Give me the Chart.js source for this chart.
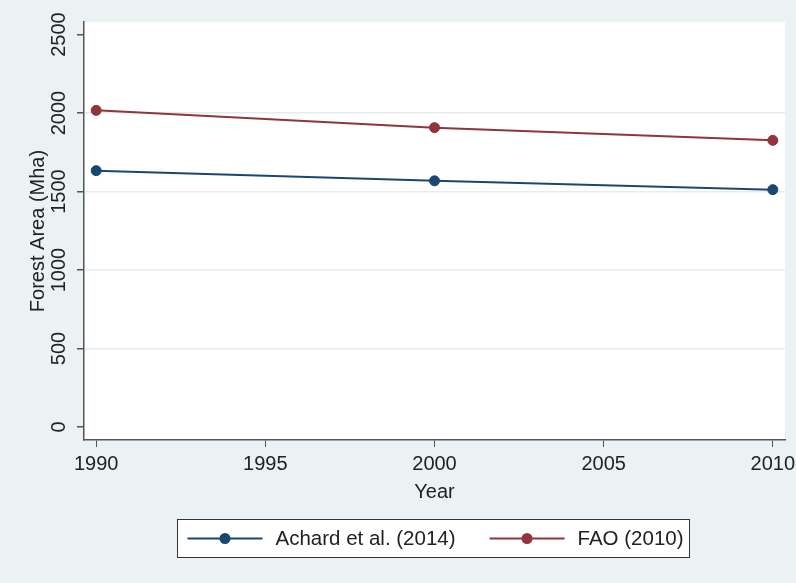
<!DOCTYPE html>
<html>
<head>
<meta charset="utf-8">
<script src="https://cdn.jsdelivr.net/npm/chart.js@4.4.1/dist/chart.umd.min.js"></script>
<style>
  html, body { margin: 0; padding: 0; background: #eaf2f3; }
  #wrap { width: 796px; height: 583px; }
</style>
</head>
<body>
<div id="wrap"><canvas id="chart" width="796" height="583"></canvas></div>
<script>
// Forest area estimates (Mha)
const years = [1990, 2000, 2010]
const achard = [1633, 1568, 1512]
const fao = [2017, 1907, 1826]
const seriesNames = ["Achard et al. (2014)", "FAO (2010)"]
const xTicks = [1990, 1995, 2000, 2005, 2010]
const yTicks = [0, 500, 1000, 1500, 2000, 2500]

const NAVY = '#1a476f'
const MAROON = '#90353b'
const FONT = '"Liberation Sans", Arial, sans-serif'

Chart.defaults.font.family = FONT
Chart.defaults.font.size = 20
Chart.defaults.color = '#222'

const toPoints = (vals) => years.map((yr, i) => ({ x: yr, y: vals[i] }))

// Background + white plot region
const backdrop = {
    id: 'backdrop',
    beforeDraw(chart) {
        const { ctx, chartArea: a } = chart
        ctx.save()
        ctx.fillStyle = '#eaf2f3'
        ctx.fillRect(0, 0, chart.width, chart.height)
        ctx.fillStyle = '#ffffff'
        ctx.fillRect(a.left, a.top, a.right - a.left, a.bottom - a.top)
        ctx.restore()
    }
}

// Vertical y tick labels, Stata style
const yLabels = {
    id: 'yLabels',
    afterDraw(chart) {
        const { ctx } = chart
        const scale = chart.scales.y
        ctx.save()
        ctx.font = '20px ' + FONT
        ctx.fillStyle = '#222'
        ctx.textAlign = 'center'
        ctx.textBaseline = 'middle'
        yTicks.forEach(v => {
            const y = scale.getPixelForValue(v)
            ctx.save()
            ctx.translate(59, y)
            ctx.rotate(-Math.PI / 2)
            ctx.fillText(String(v), 0, 0)
            ctx.restore()
        })
        ctx.restore()
    }
}

// Boxed legend below the x axis title
const boxLegend = {
    id: 'boxLegend',
    afterDraw(chart) {
        const { ctx, chartArea: a } = chart
        const lineLen = 75, gap = 13, itemGap = 34, padL = 10, padR = 6
        ctx.save()
        ctx.font = '20.5px ' + FONT
        const widths = chart.data.datasets.map(ds => ctx.measureText(ds.label).width)
        let total = padL + padR
        widths.forEach((w, i) => { total += lineLen + gap + w + (i > 0 ? itemGap : 0) })
        total = Math.round(total)
        const boxLeft = Math.round((a.left + a.right) / 2 - total / 2) - 2 + 0.5
        const boxTop = 519.5, boxH = 38
        const cy = boxTop + boxH / 2
        ctx.fillStyle = '#ffffff'
        ctx.fillRect(boxLeft, boxTop, total, boxH)
        ctx.strokeStyle = '#333'
        ctx.lineWidth = 1
        ctx.strokeRect(boxLeft, boxTop, total, boxH)

        let x = boxLeft + padL
        chart.data.datasets.forEach((ds, i) => {
            ctx.strokeStyle = ds.borderColor
            ctx.lineWidth = 2
            ctx.beginPath()
            ctx.moveTo(x, cy)
            ctx.lineTo(x + lineLen, cy)
            ctx.stroke()
            ctx.fillStyle = ds.pointBackgroundColor
            ctx.beginPath()
            ctx.arc(x + lineLen / 2, cy, 5.5, 0, Math.PI * 2)
            ctx.fill()
            ctx.fillStyle = '#222'
            ctx.textAlign = 'left'
            ctx.textBaseline = 'middle'
            ctx.fillText(ds.label, x + lineLen + gap, cy + 1)
            x += lineLen + gap + widths[i] + itemGap
        })
        ctx.restore()
    }
}

new Chart(document.getElementById('chart'), {
    type: 'line',
    data: {
        datasets: [
            {
                label: seriesNames[0],
                data: toPoints(achard),
                borderColor: NAVY,
                backgroundColor: NAVY,
                pointBackgroundColor: NAVY,
                pointBorderColor: NAVY,
                borderWidth: 2,
                pointRadius: 5,
                pointBorderWidth: 1
            },
            {
                label: seriesNames[1],
                data: toPoints(fao),
                borderColor: MAROON,
                backgroundColor: MAROON,
                pointBackgroundColor: MAROON,
                pointBorderColor: MAROON,
                borderWidth: 2,
                pointRadius: 5,
                pointBorderWidth: 1
            }
        ]
    },
    options: {
        responsive: false,
        animation: false,
        layout: { padding: { top: 22, right: 11, bottom: 83, left: 0 } },
        plugins: {
            legend: { display: false },
            tooltip: { enabled: false }
        },
        scales: {
            x: {
                type: 'linear',
                min: 1989.64,
                max: 2010.36,
                afterBuildTicks: (scale) => { scale.ticks = xTicks.map(v => ({ value: v })) },
                afterFit: (scale) => {
                    scale.height = 60
                    scale.paddingLeft = 0
                    scale.paddingRight = 0
                },
                grid: {
                    drawOnChartArea: false,
                    drawTicks: true,
                    tickLength: 7,
                    tickColor: '#555'
                },
                border: { color: '#555', width: 1.5 },
                ticks: {
                    padding: 5,
                    maxRotation: 0,
                    callback: (v) => String(v)
                },
                title: {
                    display: true,
                    text: 'Year',
                    padding: { top: 0, bottom: -4 }
                }
            },
            y: {
                min: -83,
                max: 2580,
                afterBuildTicks: (scale) => { scale.ticks = yTicks.map(v => ({ value: v })) },
                afterFit: (scale) => {
                    scale.width = 84
                    scale.paddingTop = 0
                    scale.paddingBottom = 0
                },
                grid: {
                    color: (c) => (c.tick && (c.tick.value === 0 || c.tick.value === 2500)) ? 'rgba(0,0,0,0)' : '#e6ecee',
                    tickColor: '#555',
                    tickLength: 7,
                    lineWidth: 1.5
                },
                border: { color: '#555', width: 1.5 },
                ticks: { display: false },
                title: {
                    display: true,
                    text: 'Forest Area (Mha)',
                    padding: { top: 26, bottom: 0 }
                }
            }
        }
    },
    plugins: [backdrop, yLabels, boxLegend]
})
</script>
</body>
</html>
